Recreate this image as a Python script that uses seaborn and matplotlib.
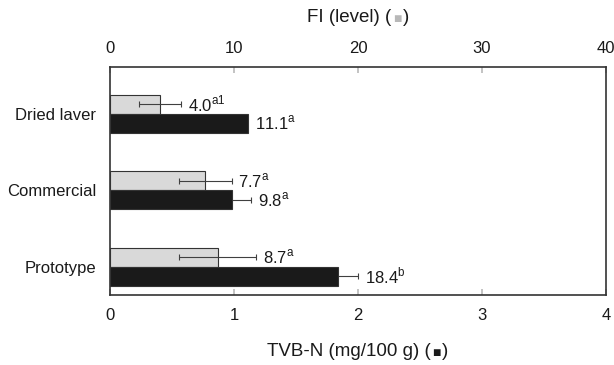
import matplotlib
matplotlib.use("Agg")
import matplotlib.pyplot as plt
import seaborn as sns
import pandas as pd
import numpy as np
from matplotlib.offsetbox import TextArea, HPacker, AnchoredOffsetbox

categories = ["Dried laver", "Commercial", "Prototype"]
fi_values = [4.0, 7.7, 8.7]
fi_err = [1.7, 2.1, 3.1]
fi_sup = ["a1", "a", "a"]
tvbn_values = [11.1, 9.8, 18.4]
tvbn_err = [0.0, 1.6, 1.6]
tvbn_sup = ["a", "a", "b"]
top_ticks = [0, 10, 20, 30, 40]
bottom_ticks = [0, 1, 2, 3, 4]

sns.set_theme(style="white")
plt.rcParams["font.family"] = ["Liberation Sans", "DejaVu Sans"]
plt.rcParams["mathtext.fontset"] = "custom"
plt.rcParams["mathtext.rm"] = "Liberation Sans"

df = pd.DataFrame({
    "category": categories * 2,
    "measure": ["FI"] * 3 + ["TVB-N"] * 3,
    "value": fi_values + tvbn_values,
})

fig = plt.figure(figsize=(6.14, 3.65), dpi=100)
ax = fig.add_axes([110 / 614, 1 - 295 / 365, (606 - 110) / 614, (295 - 67) / 365])

light = "#d9d9d9"
dark = "#1a1a1a"
sns.barplot(data=df, x="value", y="category", hue="measure", orient="h",
            palette={"FI": light, "TVB-N": dark}, width=0.5, dodge=True,
            legend=False, ax=ax, edgecolor="#333333", linewidth=0.8, errorbar=None,
            zorder=2)

bars = [p for p in ax.patches]
fi_bars = bars[:3]
tv_bars = bars[3:6]

def annotate(bar_list, vals, errs, sups, ez):
    for p, v, e, s in zip(bar_list, vals, errs, sups):
        yc = p.get_y() + p.get_height() / 2
        if e > 0:
            ax.errorbar(v, yc, xerr=e, fmt="none", ecolor="#404040",
                        elinewidth=0.8, capsize=2.5, capthick=0.8, zorder=ez)
        xend = v + e
        ax.annotate(f"{v:.1f}" + r"$^{\mathregular{" + s + "}}$",
                    xy=(xend, yc), xytext=(5, 0), textcoords="offset points",
                    ha="left", va="center", fontsize=12, color="#1a1a1a")

annotate(fi_bars, fi_values, fi_err, fi_sup, 5)
annotate(tv_bars, tvbn_values, tvbn_err, tvbn_sup, 1)

ax.set_xlim(0, 40)
ax.set_ylim(2.37, -0.61)
ax.set_xlabel("")
ax.set_ylabel("")

ax.xaxis.tick_top()
ax.set_xticks(top_ticks)
ax.set_xticklabels([str(t) for t in top_ticks])
ax.tick_params(axis="x", which="both", direction="in", length=4, color="#bbbbbb",
               labelsize=12, pad=8, top=True, bottom=False, labelcolor="#1a1a1a")
ax.tick_params(axis="y", length=0, pad=10, labelsize=12, labelcolor="#1a1a1a")

sec = ax.secondary_xaxis("bottom", functions=(lambda x: x / 10, lambda x: x * 10))
sec.set_xticks(bottom_ticks)
sec.set_xticklabels([str(t) for t in bottom_ticks])
sec.tick_params(direction="in", length=4, color="#bbbbbb", labelsize=12, pad=9,
                labelcolor="#1a1a1a")
for s in sec.spines.values():
    s.set_visible(False)

for s in ax.spines.values():
    s.set_visible(True)
    s.set_color("#333333")
    s.set_linewidth(1.2)

def title_box(parts, y):
    boxes = [TextArea(t, textprops=dict(color=c, fontsize=fs, family=["Liberation Sans", "DejaVu Sans"]))
             for t, c, fs in parts]
    pack = HPacker(children=boxes, align="baseline", pad=0, sep=1)
    ab = AnchoredOffsetbox(loc="center", child=pack, frameon=False,
                           bbox_to_anchor=(ax.get_position().x0 + ax.get_position().width / 2, y),
                           bbox_transform=fig.transFigure, borderpad=0)
    fig.add_artist(ab)

title_box([("FI (level) (", "#1a1a1a", 13.5), ("\u25a0", "#b8b8b8", 10), (")", "#1a1a1a", 13.5)],
          1 - 18 / 365)
title_box([("TVB-N (mg/100 g) (", "#1a1a1a", 13.5), ("\u25a0", "#1a1a1a", 10), (")", "#1a1a1a", 13.5)],
          1 - 352 / 365)

fig.savefig("out.png", dpi=100)
